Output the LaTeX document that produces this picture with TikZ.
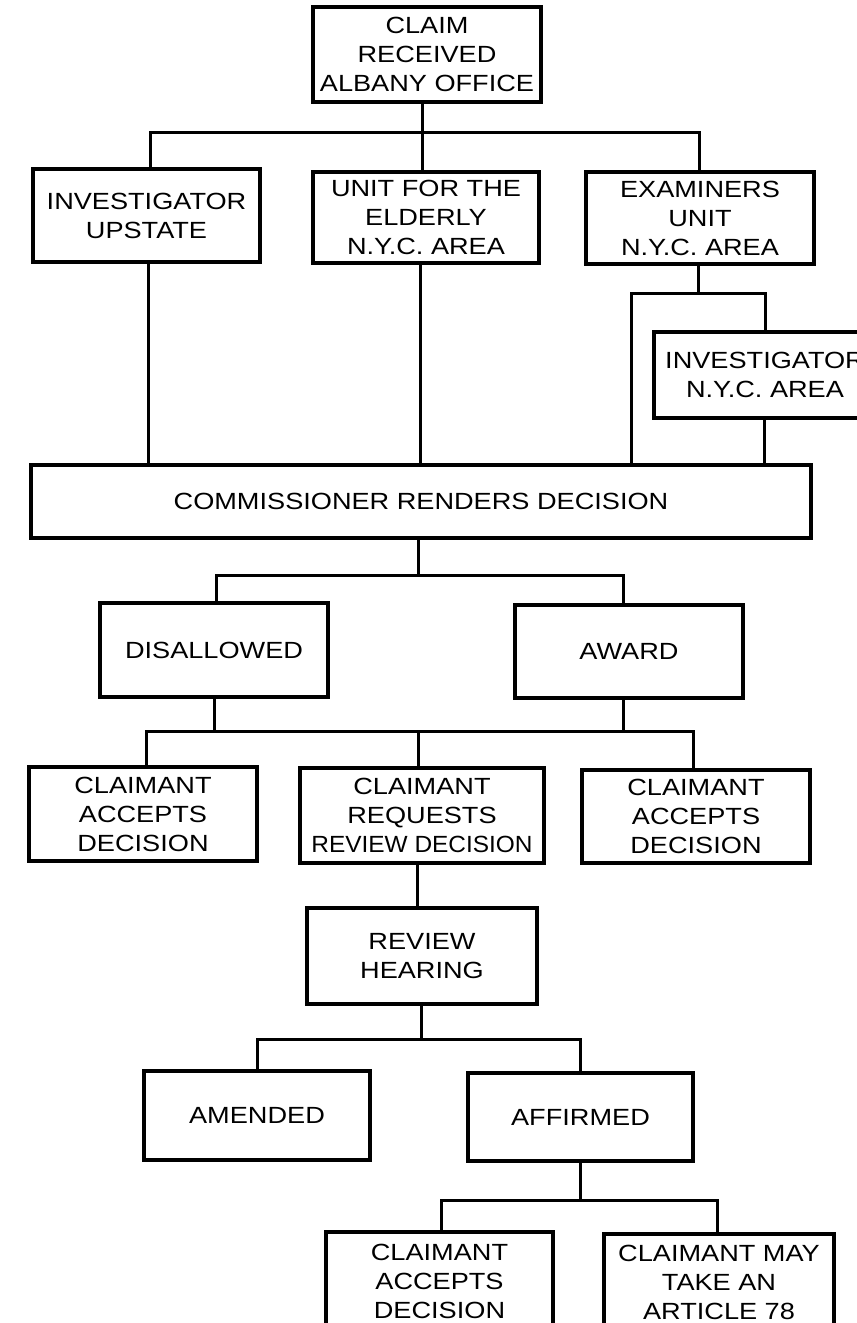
\documentclass[tikz,border=0pt]{standalone}
\usepackage{fontspec}
\setmainfont{Liberation Sans}[FakeStretch=1.16]
\begin{document}
\begin{tikzpicture}[x=1pt,y=-1pt,
  box/.style={draw=black, line width=3.2pt, fill=white, inner sep=0pt, align=center,
    font=\fontsize{23.4}{29}\selectfont},
  conn/.style={draw=black, line width=3pt, line cap=rect}]
\useasboundingbox (0,0) rectangle (857,1323);
\clip (0,0) rectangle (857,1323);
\fill[white] (0,0) rectangle (857,1323);
% nodes
\node[box, minimum width=228pt, minimum height=95pt] (claim) at (427,54.5) {CLAIM\\RECEIVED\\ALBANY OFFICE};
\node[box, minimum width=227pt, minimum height=93pt] (upstate) at (146.5,215.5) {INVESTIGATOR\\UPSTATE};
\node[box, minimum width=226pt, minimum height=91pt] (elderly) at (426,217.5) {UNIT FOR THE\\ELDERLY\\N.Y.C. AREA};
\node[box, minimum width=228pt, minimum height=92pt] (exam) at (700,218) {EXAMINERS\\UNIT\\N.Y.C. AREA};
\node[box, minimum width=222pt, minimum height=86pt] (invnyc) at (765,375) {INVESTIGATOR\\N.Y.C. AREA};
\node[box, minimum width=780pt, minimum height=73pt] (comm) at (421,501.5) {COMMISSIONER RENDERS DECISION};
\node[box, minimum width=228pt, minimum height=94pt] (disallowed) at (214,650) {DISALLOWED};
\node[box, minimum width=228pt, minimum height=93pt] (award) at (629,651.5) {AWARD};
\node[box, minimum width=228pt, minimum height=94pt] (ca1) at (143,814) {CLAIMANT\\ACCEPTS\\DECISION};
\node[box, minimum width=244pt, minimum height=95pt] (crrd) at (422,815.5) {CLAIMANT\\REQUESTS\\\scalebox{0.9}[1]{REVIEW DECISION}};
\node[box, minimum width=228pt, minimum height=93pt] (ca2) at (696,816.5) {CLAIMANT\\ACCEPTS\\DECISION};
\node[box, minimum width=230pt, minimum height=96pt] (review) at (422,956) {REVIEW\\HEARING};
\node[box, minimum width=226pt, minimum height=89pt] (amended) at (257,1115.5) {AMENDED};
\node[box, minimum width=225pt, minimum height=88pt] (affirmed) at (580.5,1117) {AFFIRMED};
\node[box, minimum width=227pt, minimum height=98pt] (ca3) at (439.5,1281) {CLAIMANT\\ACCEPTS\\DECISION};
\node[box, minimum width=230pt, minimum height=96pt] (art78) at (719,1282) {CLAIMANT MAY\\TAKE AN\\ARTICLE 78};
% bus coordinates
\coordinate (t1L) at (150,132);
\coordinate (t1C) at (422,132);
\coordinate (t1R) at (699,132);
\coordinate (exL) at (631,293);
\coordinate (exC) at (698,293);
\coordinate (exR) at (765,293);
\coordinate (upX) at (148,0);
\coordinate (elX) at (420,0);
\coordinate (nyX) at (764,0);
\coordinate (cmC) at (418,575);
\coordinate (cmL) at (216,575);
\coordinate (cmR) at (623,575);
\coordinate (dL) at (146,731);
\coordinate (dD) at (214,731);
\coordinate (dC) at (418,731);
\coordinate (dA) at (623,731);
\coordinate (dR) at (693,731);
\coordinate (rvX) at (417,0);
\coordinate (rC) at (421,1039);
\coordinate (rL) at (257,1039);
\coordinate (rR) at (580,1039);
\coordinate (fC) at (580,1200);
\coordinate (fL) at (441,1200);
\coordinate (fR) at (717,1200);
% connectors
\draw[conn] (claim.south -| t1C) -- (t1C);
\draw[conn] (upstate.north -| t1L) -- (t1L) -- (t1R) -- (exam.north -| t1R);
\draw[conn] (t1C) -- (elderly.north -| t1C);
\draw[conn] (exam.south -| exC) -- (exC);
\draw[conn] (comm.north -| exL) -- (exL) -- (exR) -- (invnyc.north -| exR);
\draw[conn] (invnyc.south -| nyX) -- (comm.north -| nyX);
\draw[conn] (upstate.south -| upX) -- (comm.north -| upX);
\draw[conn] (elderly.south -| elX) -- (comm.north -| elX);
\draw[conn] (comm.south -| cmC) -- (cmC);
\draw[conn] (disallowed.north -| cmL) -- (cmL) -- (cmR) -- (award.north -| cmR);
\draw[conn] (disallowed.south -| dD) -- (dD);
\draw[conn] (award.south -| dA) -- (dA);
\draw[conn] (ca1.north -| dL) -- (dL) -- (dR) -- (ca2.north -| dR);
\draw[conn] (dC) -- (crrd.north -| dC);
\draw[conn] (crrd.south -| rvX) -- (review.north -| rvX);
\draw[conn] (review.south -| rC) -- (rC);
\draw[conn] (amended.north -| rL) -- (rL) -- (rR) -- (affirmed.north -| rR);
\draw[conn] (affirmed.south -| fC) -- (fC);
\draw[conn] (ca3.north -| fL) -- (fL) -- (fR) -- (art78.north -| fR);
\end{tikzpicture}
\end{document}
